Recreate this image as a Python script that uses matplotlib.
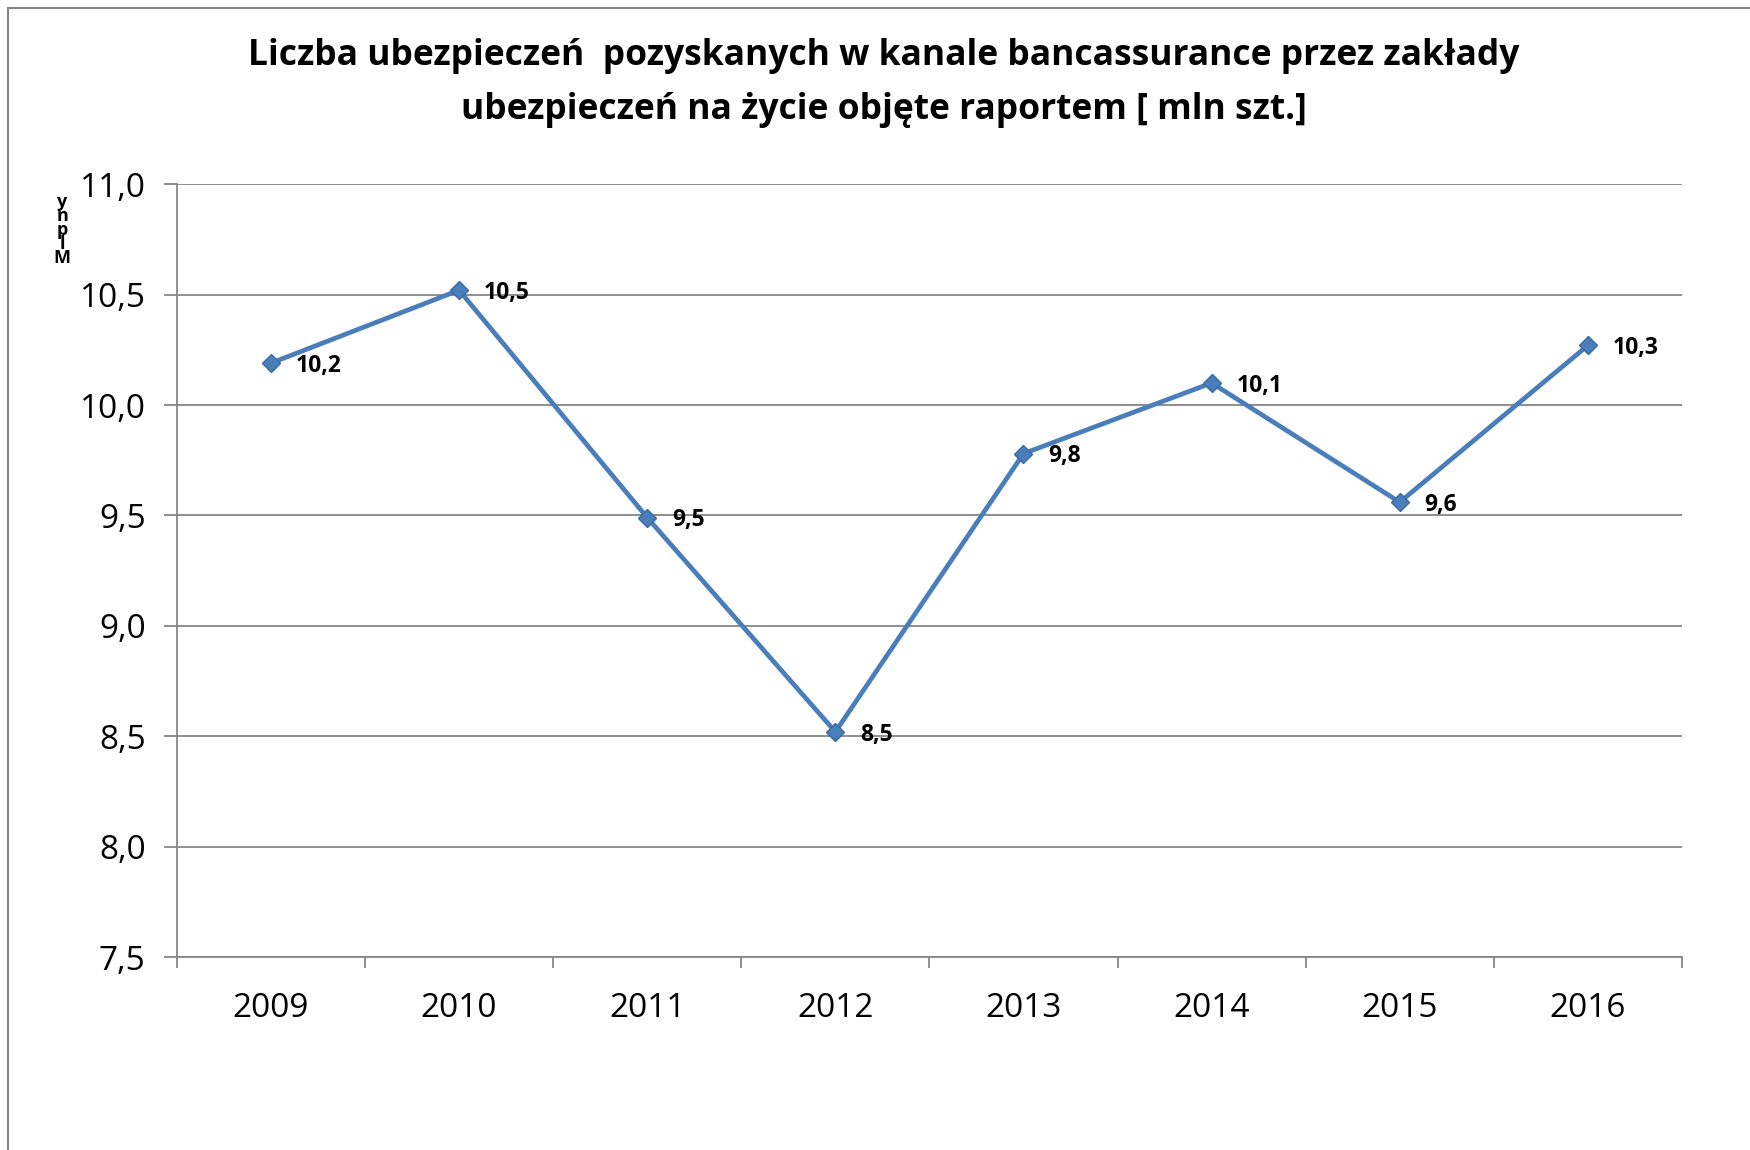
import matplotlib
matplotlib.use("Agg")
import matplotlib.pyplot as plt
from matplotlib.lines import Line2D

# data
years = ["2009", "2010", "2011", "2012", "2013", "2014", "2015", "2016"]
values = [10.19, 10.52, 9.49, 8.52, 9.78, 10.10, 9.56, 10.27]
y_ticks = [7.5, 8.0, 8.5, 9.0, 9.5, 10.0, 10.5, 11.0]

title = ("Liczba ubezpieczeń  pozyskanych w kanale bancassurance przez zakłady\n"
         "ubezpieczeń na życie objęte raportem [ mln szt.]")

blue = "#4A7EBB"
grid = "#868686"

fig = plt.figure(figsize=(17.5, 11.5), dpi=100)
ax = fig.add_axes([0.1011, 0.1678, 0.86, 0.672])

x = list(range(len(years)))
ax.plot(x, values, color=blue, lw=3.4, marker="D", markersize=9,
        markerfacecolor=blue, markeredgecolor="#3A6A9F", markeredgewidth=1, zorder=3)

for xi, v in zip(x, values):
    ax.annotate(f"{v:.1f}".replace(".", ","), (xi, v), xytext=(18, -2),
                textcoords="offset points", ha="left", va="center",
                fontsize=16.5, fontweight="bold", family="Open Sans", zorder=4)

ax.set_xlim(-0.5, len(years) - 0.5)
ax.set_ylim(7.5, 11.0)
ax.set_yticks(y_ticks)
ax.set_yticklabels([f"{t:.1f}".replace(".", ",") for t in y_ticks],
                   family="Open Sans", fontsize=24)
ax.yaxis.grid(True, color=grid, lw=1.3)
ax.set_axisbelow(True)

# category boundaries as major ticks, names on minor ticks
ax.set_xticks([i - 0.5 for i in range(len(years) + 1)])
ax.set_xticklabels([])
ax.set_xticks(x, minor=True)
ax.set_xticklabels(years, minor=True, family="Open Sans", fontsize=24)
ax.tick_params(axis="x", which="major", direction="out", length=8, width=1.3, color=grid)
ax.tick_params(axis="x", which="minor", length=0, pad=25)
ax.tick_params(axis="y", direction="out", length=9.5, width=1.3, color=grid, pad=13)

for s in ["top", "right"]:
    ax.spines[s].set_visible(False)
for s in ["left", "bottom"]:
    ax.spines[s].set_color(grid)
    ax.spines[s].set_linewidth(1.3)

fig.text(0.505, 0.928, title, ha="center", va="center", fontsize=25.5,
         fontweight="bold", family="Open Sans", linespacing=1.65)

fig.text(0.0355, 0.80, "y\nn\np\nl\nM", ha="center", va="center", fontsize=13,
         fontweight="bold", family="Open Sans", linespacing=0.72)

# outer chart frame (top and left edges only visible)
fig.add_artist(Line2D([8 / 1750, 1.0], [1 - 8 / 1150, 1 - 8 / 1150],
                      transform=fig.transFigure, color="#888888", lw=1.5))
fig.add_artist(Line2D([8 / 1750, 8 / 1750], [0.0, 1 - 8 / 1150],
                      transform=fig.transFigure, color="#888888", lw=1.5))

fig.savefig("out.png", dpi=100, facecolor="white")
